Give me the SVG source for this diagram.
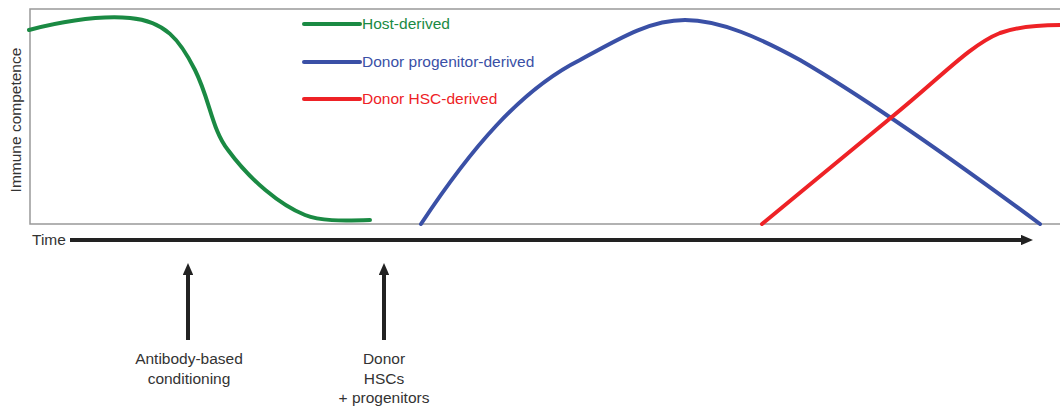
<svg xmlns="http://www.w3.org/2000/svg" width="1060" height="406" viewBox="0 0 1060 406">
<style>
text{font-family:"Liberation Sans",Arial,sans-serif;font-size:15.5px;fill:#333}
.c{fill:none;stroke-width:4;stroke-linecap:round;stroke-linejoin:round}
.g{stroke:#1a8a43}.b{stroke:#3a50a6}.r{stroke:#ee2226}
.ax{stroke:#999;stroke-width:1.5;fill:none}
.k{stroke:#222;stroke-width:4;fill:none}
</style>
<defs>
<marker id="ah" markerWidth="3" markerHeight="2.6" refX="1.5" refY="1.3" orient="auto" markerUnits="strokeWidth"><path d="M0,0 L3,1.3 L0,2.6 z" fill="#222"/></marker>
</defs>
<g id="frame">
<path class="ax" d="M1060,9 H30 V224 H1060"/>
<text transform="translate(21,120) rotate(-90)" text-anchor="middle" style="font-size:15.5px">Immune competence</text>
</g>
<g id="connectors">
<path id="host" class="c g" d="M29,30 C60,22 95,15 130,18 C165,21 180,40 195,70 C210,100 212,130 228,150 C250,180 280,205 305,215 C320,221 340,221 370,220"/>
<path id="progenitor" class="c b" d="M421,224 C470,150 520,90 580,60 C620,38 650,20 685,20 C720,20 760,38 800,60 C860,95 940,150 1040,224"/>
<path id="hsc" class="c r" d="M762,224 L893,116 C940,78 970,45 1000,33 C1020,26 1040,25 1060,25"/>
<line class="k" x1="70" y1="240" x2="1027" y2="240" marker-end="url(#ah)"/>
<line class="k" x1="188" y1="340" x2="188" y2="269" marker-end="url(#ah)"/>
<line class="k" x1="384" y1="340" x2="384" y2="269" marker-end="url(#ah)"/>
</g>
<g id="legend">
<line class="c g" x1="304" y1="24" x2="360" y2="24"/>
<text x="362" y="29" style="fill:#1a8a43">Host-derived</text>
<line class="c b" x1="304" y1="62" x2="360" y2="62"/>
<text x="362" y="67" style="fill:#3a50a6">Donor progenitor-derived</text>
<line class="c r" x1="304" y1="99" x2="360" y2="99"/>
<text x="362" y="104" style="fill:#ee2226">Donor HSC-derived</text>
</g>
<g id="time"><text x="32" y="245">Time</text></g>
<g id="conditioning">
<text x="189" y="364" text-anchor="middle">Antibody-based</text>
<text x="189" y="384" text-anchor="middle">conditioning</text>
</g>
<g id="donor">
<text x="384" y="364" text-anchor="middle">Donor</text>
<text x="384" y="384" text-anchor="middle">HSCs</text>
<text x="384" y="403" text-anchor="middle">+ progenitors</text>
</g>
</svg>
